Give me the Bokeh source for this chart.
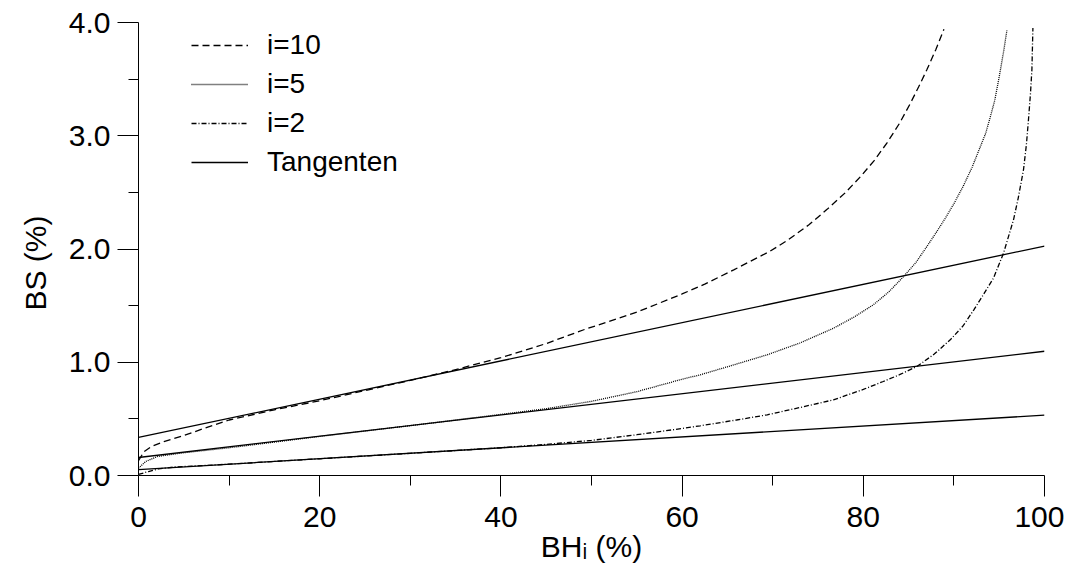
from bokeh.plotting import figure
from bokeh.models import (Range1d, FixedTicker, PrintfTickFormatter, Legend, LegendItem, Title)
from bokeh.embed import file_html
from bokeh.resources import INLINE

# ---- data ----
x_i10 = [0, 0.6, 1.4, 2.8, 4.7, 7.4, 10, 15, 20, 25, 30, 34.5, 40, 45, 49.15, 55, 60, 62.5,
         65.7, 69.7, 71.6, 74, 76, 78, 79.7, 81.2, 82.6, 84, 85.2, 86.1, 87, 88, 88.9]
y_i10 = [0.13, 0.21, 0.255, 0.30, 0.345, 0.42, 0.49, 0.58, 0.66, 0.75, 0.84, 0.925, 1.04, 1.165,
         1.287, 1.442, 1.603, 1.69, 1.816, 1.98, 2.075, 2.214, 2.35, 2.496, 2.64, 2.78, 2.935,
         3.11, 3.287, 3.43, 3.58, 3.76, 3.94]

x_i5 = [0, 0.8, 2.1, 4.7, 10, 20, 30, 40, 45, 50, 55, 60, 62, 65, 69.4, 73, 76.7, 79, 81.1,
        82.8, 84.45, 85.8, 87, 88, 89, 90, 91, 92, 93, 93.5, 94, 94.5, 95, 95.5, 95.85]
y_i5 = [0.065, 0.124, 0.168, 0.198, 0.245, 0.345, 0.44, 0.54, 0.59, 0.655, 0.74, 0.85, 0.889,
        0.96, 1.066, 1.17, 1.30, 1.40, 1.507, 1.62, 1.757, 1.88, 2.02, 2.14, 2.265, 2.40, 2.55,
        2.72, 2.92, 3.02, 3.16, 3.31, 3.52, 3.75, 3.93]

x_i2 = [0, 1.1, 2.2, 4, 10, 20, 30, 40, 45, 50, 55, 60, 62, 66, 69.4, 73, 76.7, 80, 82.2, 84,
        85.9, 87.8, 89.6, 91, 92.2, 93.2, 94.37, 95.48, 96.58, 97.1, 97.68, 98.0, 98.23, 98.45,
        98.61, 98.72]
y_i2 = [0.01, 0.035, 0.059, 0.075, 0.10, 0.148, 0.196, 0.245, 0.275, 0.31, 0.36, 0.415, 0.439,
        0.49, 0.536, 0.60, 0.668, 0.76, 0.83, 0.89, 0.962, 1.07, 1.198, 1.32, 1.463, 1.59, 1.743,
        1.964, 2.258, 2.45, 2.698, 2.92, 3.14, 3.37, 3.583, 3.951]

tan_x = [0, 100]
tan_i10 = [0.336, 2.026]
tan_i5 = [0.159, 1.097]
tan_i2 = [0.052, 0.533]

legend_labels = ["i=10", "i=5", "i=2", "Tangenten"]
x_ticks = [0, 20, 40, 60, 80, 100]
x_minor = [10, 30, 50, 70, 90]
y_ticks = [0, 1, 2, 3, 4]
y_minor = [0.5, 1.5, 2.5, 3.5]
x_title = "BH\u1d62 (%)"
y_title = "BS (%)"

FONT = "Liberation Sans"

p = figure(frame_width=906, frame_height=453,
           min_border_left=138, min_border_right=20, min_border_top=22, min_border_bottom=95,
           x_range=Range1d(0, 100), y_range=Range1d(0, 4),
           output_backend="svg", toolbar_location=None)
p.outline_line_color = None
p.xgrid.visible = False
p.ygrid.visible = False
p.background_fill_color = "white"
p.border_fill_color = "white"

for ax in (p.xaxis[0], p.yaxis[0]):
    ax.axis_line_color = "black"
    ax.axis_line_width = 1
    ax.major_tick_line_color = "black"
    ax.minor_tick_line_color = "black"
    ax.major_tick_in = 0
    ax.major_tick_out = 21
    ax.minor_tick_in = 0
    ax.minor_tick_out = 10
    ax.major_label_text_font = FONT
    ax.major_label_text_font_size = "30px"
    ax.major_label_text_color = "black"
    ax.axis_label_text_font = FONT
    ax.axis_label_text_font_size = "30px"
    ax.axis_label_text_font_style = "normal"
    ax.axis_label_text_color = "black"

p.xaxis[0].ticker = FixedTicker(ticks=x_ticks, minor_ticks=x_minor)
p.yaxis[0].ticker = FixedTicker(ticks=y_ticks, minor_ticks=y_minor)
p.yaxis[0].formatter = PrintfTickFormatter(format="%.1f")
p.xaxis[0].major_label_standoff = 10
p.yaxis[0].major_label_standoff = 7
p.xaxis[0].axis_label = x_title
p.xaxis[0].axis_label_standoff = 0

ytitle = Title(text=y_title, align="left", offset=165, standoff=28,
               text_font=FONT, text_font_size="30px", text_font_style="normal",
               text_color="black")
p.add_layout(ytitle, "left")

lw = 1.3
r10 = p.line(x_i10, y_i10, line_color="black", line_width=lw, line_dash="7 4")
r5 = p.line(x_i5, y_i5, line_color="black", line_width=lw, line_dash="1 1")
r2 = p.line(x_i2, y_i2, line_color="black", line_width=lw, line_dash="5 2 1 2")
rt1 = p.line(tan_x, tan_i10, line_color="black", line_width=lw)
p.line(tan_x, tan_i5, line_color="black", line_width=lw)
p.line(tan_x, tan_i2, line_color="black", line_width=lw)

legend = Legend(items=[LegendItem(label=legend_labels[0], renderers=[r10]),
                       LegendItem(label=legend_labels[1], renderers=[r5]),
                       LegendItem(label=legend_labels[2], renderers=[r2]),
                       LegendItem(label=legend_labels[3], renderers=[rt1])],
                location=(53, 297), orientation="vertical",
                glyph_width=57, glyph_height=30, label_height=30, spacing=7,
                label_standoff=19, padding=0, margin=0,
                label_text_font=FONT, label_text_font_size="28px",
                label_text_color="black",
                border_line_color=None, background_fill_alpha=0)
p.add_layout(legend)

open("out.html", "w").write(file_html(p, INLINE))
